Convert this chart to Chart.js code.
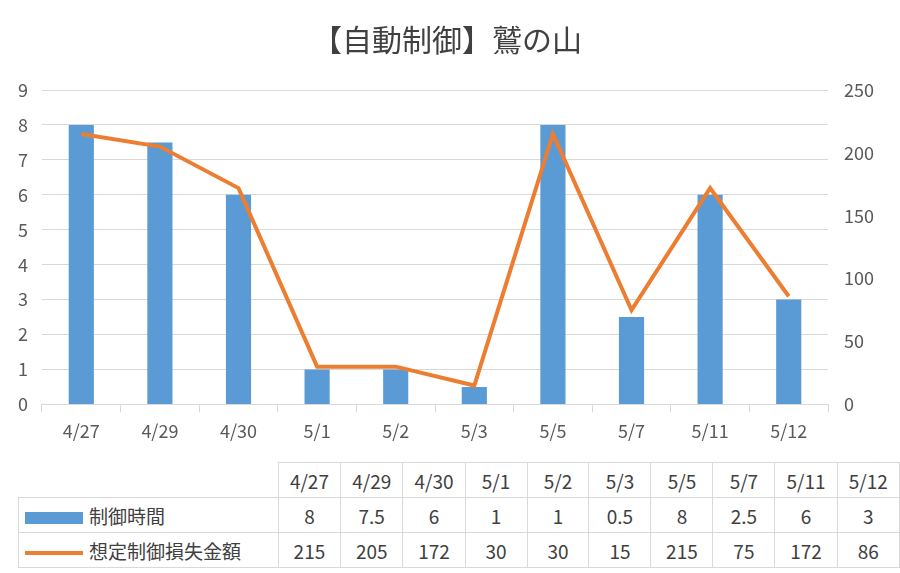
<!DOCTYPE html>
<html>
<head>
<meta charset="utf-8">
<script src="https://cdn.jsdelivr.net/npm/chart.js@4/dist/chart.umd.min.js"></script>
<style>
  body { margin: 0; background: #fff; font-family: "Noto Sans CJK JP", "Noto Sans", sans-serif; color: #404040; }
  #wrap { position: absolute; left: 0; top: 0; width: 900px; height: 450px; }
  table { position: absolute; left: 18px; top: 462px; border-collapse: collapse; font-size: 19px; }
  td { border: 1px solid #d9d9d9; height: 34px; text-align: center; padding: 0; width: 62px; }
  td.lbl { text-align: left; width: 260px; white-space: nowrap; }
  td.blank { border-top: none; border-left: none; }
  .sw { display: inline-block; vertical-align: middle; margin: 0 6px 0 6px; }
</style>
</head>
<body>
<div id="wrap"><canvas id="chart"></canvas></div>
<table id="tbl"></table>
<script>
// data
const labels = ['4/27', '4/29', '4/30', '5/1', '5/2', '5/3', '5/5', '5/7', '5/11', '5/12'];
const hours = [8, 7.5, 6, 1, 1, 0.5, 8, 2.5, 6, 3];
const losses = [215, 205, 172, 30, 30, 15, 215, 75, 172, 86];
const hoursName = '制御時間';
const lossName = '想定制御損失金額';

const tick = { color: '#595959', font: { size: 18, family: 'Noto Sans CJK JP' } };

new Chart(document.getElementById('chart'), {
    data: {
        labels: labels,
        datasets: [
            { type: 'line', label: lossName, data: losses, yAxisID: 'y2', borderColor: '#ED7D31', borderWidth: 4, pointRadius: 0, tension: 0 },
            { type: 'bar', label: hoursName, data: hours, yAxisID: 'y', backgroundColor: '#5B9BD5', barPercentage: 0.32, categoryPercentage: 1 }
        ]
    },
    options: {
        responsive: true, maintainAspectRatio: false, animation: false,
        layout: { padding: { left: 4, right: 10, top: 12, bottom: 0 } },
        plugins: {
            legend: { display: false },
            title: { display: true, text: '【自動制御】鷲の山', color: '#404040', font: { size: 30, weight: 'normal', family: 'Noto Sans CJK JP' }, padding: { top: 10, bottom: 32 } }
        },
        scales: {
            x: { ticks: { ...tick, padding: 8 }, grid: { drawOnChartArea: false, color: '#d9d9d9', tickLength: 8 }, border: { color: '#d9d9d9' } },
            y: { min: 0, max: 9, ticks: { ...tick, stepSize: 1, padding: 14 }, grid: { color: '#d9d9d9', drawTicks: false }, border: { display: false } },
            y2: { position: 'right', min: 0, max: 250, ticks: { ...tick, stepSize: 50, padding: 16 }, grid: { drawOnChartArea: false, drawTicks: false }, border: { display: false } }
        }
    }
});

// data table below the chart
const tbl = document.getElementById('tbl');
let html = '<tr><td class="lbl blank"></td>' + labels.map(l => '<td>' + l + '</td>').join('') + '</tr>';
html += '<tr><td class="lbl"><span class="sw" style="width:58px;height:12px;background:#5B9BD5"></span>' + hoursName + '</td>' + hours.map(v => '<td>' + v + '</td>').join('') + '</tr>';
html += '<tr><td class="lbl"><span class="sw" style="width:58px;height:4px;background:#ED7D31"></span>' + lossName + '</td>' + losses.map(v => '<td>' + v + '</td>').join('') + '</tr>';
tbl.innerHTML = html;
</script>
</body>
</html>
